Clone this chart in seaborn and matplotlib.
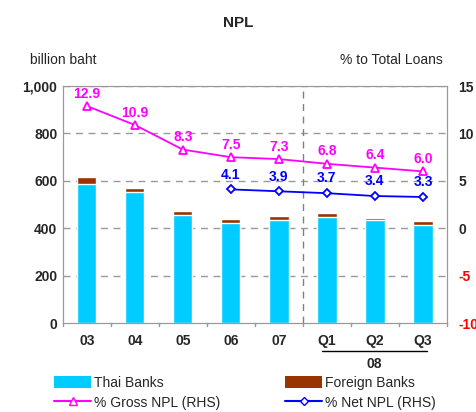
import numpy as np
import pandas as pd
import matplotlib
matplotlib.use("Agg")
import matplotlib.pyplot as plt
import seaborn as sns
from matplotlib.patches import Patch
from matplotlib.lines import Line2D

categories = ["03", "04", "05", "06", "07", "Q1", "Q2", "Q3"]
thai_banks = [588, 554, 456, 422, 435, 448, 435, 414]
foreign_banks = [28, 17, 17, 17, 17, 17, 9, 17]
gross_npl = [12.9, 10.9, 8.3, 7.5, 7.3, 6.8, 6.4, 6.0]
net_npl = [np.nan, np.nan, np.nan, 4.1, 3.9, 3.7, 3.4, 3.3]

sns.set_style("white")
plt.rcParams["font.family"] = ["Liberation Sans", "DejaVu Sans"]

df = pd.DataFrame({"cat": categories, "thai": thai_banks, "foreign": foreign_banks})
df["total"] = df["thai"] + df["foreign"]

fig = plt.figure(figsize=(4.76, 4.12), dpi=100)
ax = fig.add_axes([0.132, 0.216, 0.807, 0.575])

# stacked bars: total (foreign colour) behind, thai in front
sns.barplot(data=df, x="cat", y="total", color="#993300", width=0.4, saturation=1, ax=ax)
sns.barplot(data=df, x="cat", y="thai", color="#00CCFF", width=0.4, saturation=1, ax=ax)

ax.set_ylim(0, 1000)
ax.set_xlim(-0.5, len(categories) - 0.5)
ax.set_yticks([0, 200, 400, 600, 800, 1000])
ax.set_yticklabels(["0", "200", "400", "600", "800", "1,000"], fontweight="bold", fontsize=10)
ax.set_xticklabels(categories, fontweight="bold", fontsize=10)
ax.set_xlabel("")
ax.set_ylabel("")
for y in [200, 400, 600, 800, 1000]:
    ax.axhline(y, color="#999999", lw=1, ls=(0, (5, 4)), zorder=0)
ax.axvline(4.5, color="#808080", lw=1, ls=(0, (5, 4)), zorder=0)
for s in ax.spines.values():
    s.set_color("#999999")
ax.tick_params(axis="x", length=0, pad=8)
ax.tick_params(axis="y", length=0, pad=4)
for xb in np.arange(-0.5, len(categories), 1.0):
    ax.plot([xb, xb], [0, -12], color="#999999", lw=1, clip_on=False)

# RHS lines
ax2 = ax.twinx()
x = np.arange(len(categories))
sns.lineplot(x=x, y=gross_npl, color="#FF00FF", marker="^", markersize=6,
             markerfacecolor="white", markeredgecolor="#FF00FF", markeredgewidth=1.3, lw=1.3, ax=ax2)
sns.lineplot(x=x, y=net_npl, color="#0000FF", marker="D", markersize=4.5,
             markerfacecolor="white", markeredgecolor="#0000FF", markeredgewidth=1.3, lw=1.3, ax=ax2)
ax2.set_ylim(-10, 15)
ax2.set_yticks([-10, -5, 0, 5, 10, 15])
ax2.set_yticklabels(["-10", "-5", "0", "5", "10", "15"], fontweight="bold", fontsize=10)
for lbl in ax2.get_yticklabels():
    if lbl.get_text().startswith("-"):
        lbl.set_color("red")
ax2.tick_params(axis="y", length=0, pad=8)
for s in ax2.spines.values():
    s.set_color("#999999")

for i, v in enumerate(gross_npl):
    ax2.text(i, v + 1.3, f"{v:.1f}", color="#FF00FF", fontweight="bold", fontsize=10, ha="center", va="center")
for i, v in enumerate(net_npl):
    if not np.isnan(v):
        ax2.text(i, v + 1.55, f"{v:.1f}", color="#0000FF", fontweight="bold", fontsize=10, ha="center", va="center")

fig.text(0.5, 0.945, "NPL", ha="center", va="center", fontweight="bold", fontsize=11)
fig.text(0.063, 0.855, "billion baht", ha="left", va="center", fontsize=10)
fig.text(0.715, 0.855, "% to Total Loans", ha="left", va="center", fontsize=10)

# year group under the quarters
fig.add_artist(Line2D([0.676, 0.897], [0.148, 0.148], color="black", lw=1))
fig.text(0.786, 0.117, "08", ha="center", va="center", fontweight="bold", fontsize=10)

handles = [
    Patch(facecolor="#00CCFF", edgecolor="none", label="Thai Banks"),
    Line2D([0], [0], color="#FF00FF", marker="^", markerfacecolor="white", markersize=6, label="% Gross NPL (RHS)"),
    Patch(facecolor="#993300", edgecolor="none", label="Foreign Banks"),
    Line2D([0], [0], color="#0000FF", marker="D", markerfacecolor="white", markersize=4.5, label="% Net NPL (RHS)"),
]
fig.legend(handles=handles, ncol=2, loc="lower left", bbox_to_anchor=(0.087, -0.025),
           frameon=False, fontsize=10, handlelength=2.7, handleheight=1.0,
           columnspacing=4.64, labelspacing=0.45, handletextpad=0.2)

fig.savefig("out.png", dpi=100)
